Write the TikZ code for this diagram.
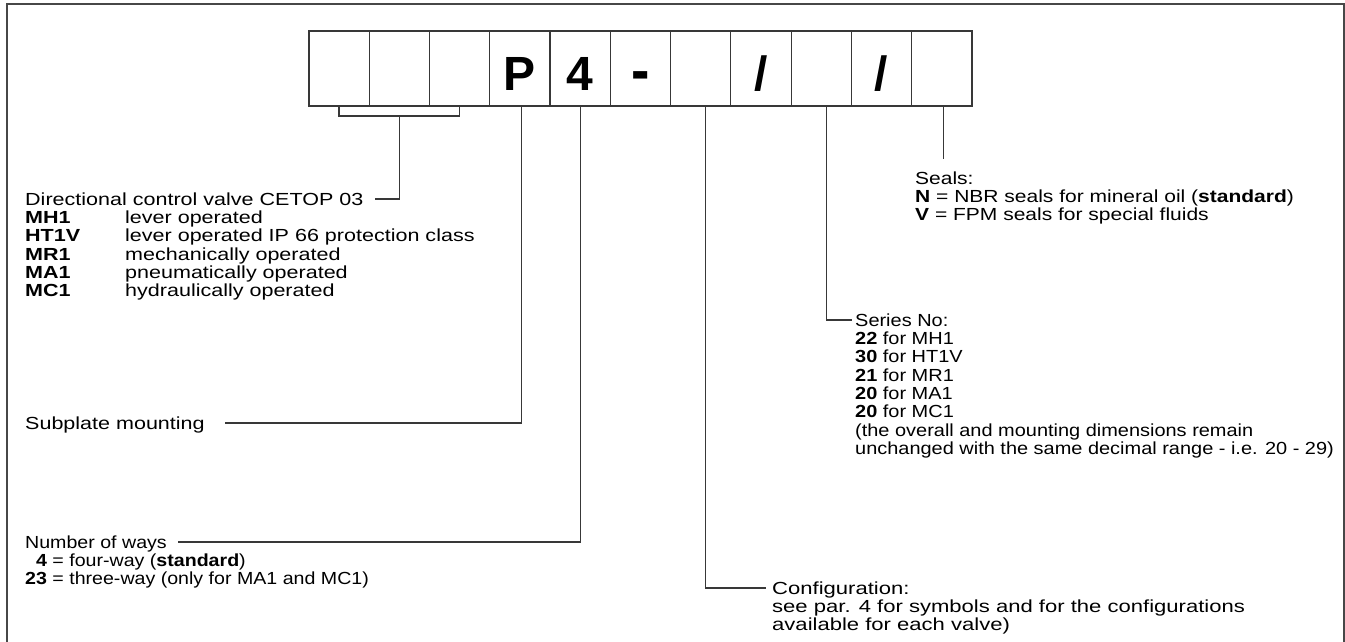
\documentclass[tikz,border=0pt]{standalone}
\usepackage{fontspec}
\setmainfont{Liberation Sans}
\newfontfamily\fwide[FakeStretch=1.23]{Liberation Sans}
\newfontfamily\fmid[FakeStretch=1.12]{Liberation Sans}
\newfontfamily\fconf[FakeStretch=1.26]{Liberation Sans}
\newfontfamily\fser[FakeStretch=1.14]{Liberation Sans}
\newfontfamily\fseal[FakeStretch=1.2]{Liberation Sans}
\usetikzlibrary{calc}
\begin{document}
\begin{tikzpicture}[x=1pt,y=-1pt,
  ln/.style={draw=black!78, line width=1.3pt},
  cell/.style={draw=black!78, line width=1.2pt, minimum width=60.27pt, minimum height=75pt,
    inner sep=0pt, outer sep=0pt, text height=44pt, text depth=0pt,
    font=\fontsize{48}{48}\selectfont\bfseries, anchor=north west},
  hd/.style={inner sep=0pt, text height=12.5pt, text depth=0pt, anchor=west},
  lst/.style={inner sep=0pt, anchor=base west},
  fa/.style={font=\fwide\fontsize{17.5}{18.3}\selectfont},
  fb/.style={font=\fmid\fontsize{17.5}{18.3}\selectfont},
  fcf/.style={font=\fconf\fontsize{17.5}{18.3}\selectfont},
  fsr/.style={font=\fser\fontsize{17.5}{18.3}\selectfont},
  fsl/.style={font=\fseal\fontsize{17.5}{18.3}\selectfont}]
\useasboundingbox (0,0) rectangle (1345,642);
% frame
\draw[line width=2pt, black!72] (7,642) -- (7,4) -- (1343.5,4) -- (1343.5,642);
% code boxes
\node[cell] (b1) at (309,31) {};
\node[cell] (b2) at (369.27,31) {};
\node[cell] (b3) at (429.54,31) {};
\node[cell] (b4) at (489.81,31) {P};
\node[cell] (b5) at (550.08,31) {4};
\node[cell] (b6) at (610.35,31) {\raisebox{-1.5pt}{\scalebox{1.15}[1.3]{-}}};
\node[cell] (b7) at (670.62,31) {};
\node[cell] (b8) at (730.89,31) {/};
\node[cell] (b9) at (791.16,31) {};
\node[cell] (b10) at (851.43,31) {/};
\node[cell] (b11) at (911.7,31) {};
% directional control valve
\node[hd, fa] (dir) at (25,199) {Directional control valve CETOP 03};
\node[lst, fa] (dirlist) at ($(dir.base west)+(0,18.3)$) {\begin{tabular}[t]{@{}l@{}l@{}}
\makebox[100pt][l]{\bfseries MH1} & lever operated\\
\makebox[100pt][l]{\bfseries HT1V} & lever operated IP 66 protection class\\
\makebox[100pt][l]{\bfseries MR1} & mechanically operated\\
\makebox[100pt][l]{\bfseries MA1} & pneumatically operated\\
\makebox[100pt][l]{\bfseries MC1} & hydraulically operated
\end{tabular}};
\draw[ln] (b1.south) -- ++(0,10) -| (b3.south);
\draw[ln] ($(b2.south)+(0,10)$) |- ([xshift=11pt]dir.east);
% subplate
\node[hd, fa] (sub) at (25,423) {Subplate mounting};
\draw[ln] ([xshift=1.5pt]b4.south) |- ([xshift=20pt]sub.east);
% number of ways
\node[hd, fb] (now) at (25,542) {Number of ways};
\node[lst, fb] (nowlist) at ($(now.base west)+(0,18.3)$) {\begin{tabular}[t]{@{}r@{}l@{}}
\textbf{4} & {} = four-way (\textbf{standard})\\
\textbf{23} & {} = three-way (only for MA1 and MC1)
\end{tabular}};
\draw[ln] (b5.south) |- ([xshift=11pt]now.east);
% configuration
\node[hd, fcf] (conf) at (772,588) {Configuration:};
\node[lst, fcf] (conflist) at ($(conf.base west)+(0,18.3)$) {\begin{tabular}[t]{@{}l@{}}
see par. 4 for symbols and for the configurations\\
available for each valve)
\end{tabular}};
\draw[ln] ([xshift=5pt]b7.south) |- ([xshift=-6pt]conf.west);
% series
\node[hd, fsr] (ser) at (855,320) {Series No:};
\node[lst, fsr] (serlist) at ($(ser.base west)+(0,18.3)$) {\begin{tabular}[t]{@{}l@{}}
\textbf{22} for MH1\\
\textbf{30} for HT1V\\
\textbf{21} for MR1\\
\textbf{20} for MA1\\
\textbf{20} for MC1\\
(the overall and mounting dimensions remain\\
unchanged with the same decimal range - i.e. 20 - 29)
\end{tabular}};
\draw[ln] ([xshift=5pt]b9.south) |- ([xshift=-3pt]ser.west);
% seals
\node[hd, fsl] (seals) at (915,178) {Seals:};
\node[lst, fsl] (sealslist) at ($(seals.base west)+(0,18.3)$) {\begin{tabular}[t]{@{}l@{}}
\textbf{N} = NBR seals for mineral oil (\textbf{standard})\\
\textbf{V} = FPM seals for special fluids
\end{tabular}};
\draw[ln] ([xshift=2pt]b11.south) -- ([xshift=2pt]b11.south |- 0,159);
\end{tikzpicture}
\end{document}
